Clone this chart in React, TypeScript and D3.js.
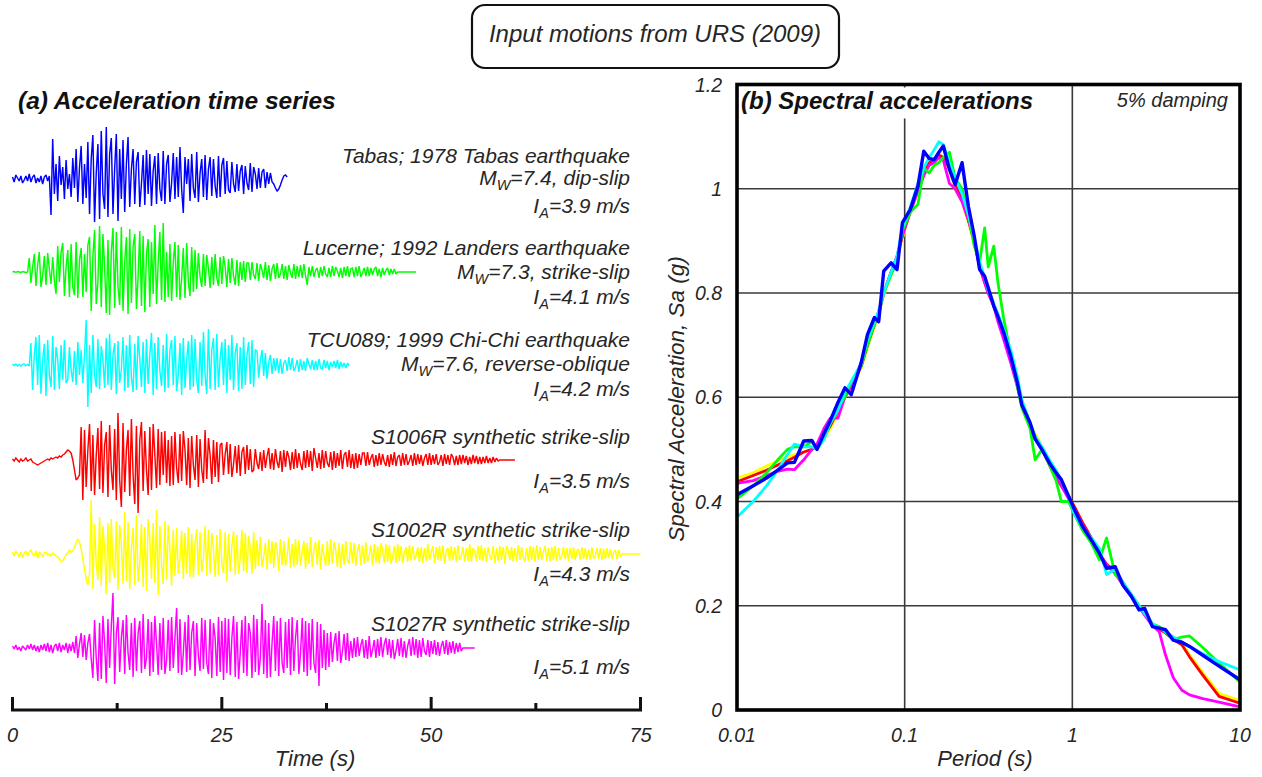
import React from "react";
import * as d3 from "d3";

const FONT = "'Liberation Sans', Arial, Helvetica, sans-serif";

// ---------- (a) acceleration time series, sampled every 0.2 s, units %g ----------
const TIME_STEP = 0.2;

const tabasAcc = [4,-6,8,2,-4,6,-8,-2,6,-4,10,-6,4,8,-8,2,-6,6,-10,4,8,-4,6,
-72,80,-30,
30,-44,46,-12,24,-40,38,-20,10,-36,42,
-18,60,-46,22,66,-50,30,-38,
74,-70,40,88,-86,12,70,-80,96,-30,-60,104,-76,50,82,-70,20,90,-84,60,-40,78,-66,30,84,
-56,20,60,-50,34,54,-56,-10,48,-52,58,-30,50,-54,16,46,-50,52,-20,-44,56,-50,30,48,-46,-8,52,-40,44,-36,
64,-20,-68,44,-10,40,
-44,50,-18,-38,54,-46,12,40,-36,48,-42,20,44,-34,40,-14,-38,46,-36,28,42,-30,36,-22,
-28,34,-10,-26,30,-24,16,28,-30,26,-8,-22,32,-26,24,10,-20,22,-18,14,
20,-18,14,-10,12,-6,
-10,-18,-24,-20,-12,-2,6,8,4];

const lucerneAcc = [0,1,-1,1,0,-1,1,0,-1,0,
28,-22,10,36,-28,14,40,-30,-8,32,-26,38,6,-24,30,-18,
-44,52,-20,40,58,-48,10,44,-50,56,-30,-46,60,-52,24,48,-50,36,-40,54,
70,-78,30,84,-64,-20,92,-70,76,10,-82,64,-86,40,88,-72,80,-30,-66,90,
-78,20,70,-84,86,-62,50,76,-74,-10,82,-68,72,-80,36,66,-70,60,-44,94,-64,20,80,-56,98,-60,40,-50,
56,-58,20,60,-50,54,-56,-14,48,-52,58,-20,-48,50,-40,44,
-34,38,-10,-30,36,-28,34,8,-32,30,-26,36,-12,-28,30,-24,32,10,-30,26,-22,28,-8,-26,24,-28,20,-16,22,-20,18,
18,-16,20,-6,-14,18,-18,16,4,-12,20,-16,14,-18,6,16,-14,18,-12,-4,16,-14,12,-16,14,-2,-12,16,-14,12,-10,14,-12,16,-8,
-26,
10,-8,12,-10,4,8,-12,10,-8,12,-4,-10,8,-10,12,-8,10,2,-10,8,-12,10,-8,12,-10,6,8,-10,10,-8,
12,-10,-2,8,-8,10,-8,8,-6,6,10,-8,6,-10,8,-6,4,8,-6,6,-4,6,-4,
0,0,0,0,0,0,0,0,0,0,0,0];

const tcuAcc = [2,-1,2,-2,1,-2,1,2,-1,1,-2,
44,-50,20,56,-40,60,-58,10,42,-62,50,-20,-44,58,-50,36,12,-48,40,-30,50,-36,
-30,36,-10,-34,28,-40,46,-20,30,-36,20,
90,-84,40,
-56,60,-20,-44,52,-48,38,10,-46,54,-40,62,-50,20,44,-58,48,-36,-10,56,
-52,40,-46,60,-24,-54,42,-50,58,12,-44,46,-56,52,-38,20,64,-60,44,-48,
56,-12,-42,40,-54,62,-46,30,50,-40,58,-52,-20,44,-60,54,-46,10,48,-50,
60,-44,52,-30,-56,46,-42,66,-20,-58,72,-48,30,54,-50,62,-44,14,46,-40,
52,-56,40,-30,60,-50,24,44,-52,36,-48,56,-40,20,46,-38,50,-44,30,
28,-26,10,30,-22,24,-28,6,20,-18,14,-12,
14,-16,12,-18,4,10,-12,16,-10,14,-12,-4,10,-14,12,-10,8,-12,14,2,
-8,10,-10,8,-10,12,-6,-8,10,-6,8,-10,6,-4,8,-6,10,-8,6,-4,4,-6,4,-2];

const s1006Acc = [2,-2,4,0,-4,2,-2,0,4,-2,0,2,-4,-6,-8,-10,-8,-6,-4,-2,0,2,0,4,2,4,6,4,8,6,10,12,
16,20,18,14,
0,-20,-40,-36,-30,
66,-80,
60,-54,20,72,-62,50,-70,10,64,-58,78,-66,30,56,-74,70,-20,-60,62,-80,
94,-40,-94,74,-64,20,60,-72,82,-30,-88,68,-106,40,76,-62,58,-20,-70,66,
-60,72,10,-56,62,-50,56,-30,58,-46,40,-52,48,
-50,56,-16,-46,52,-42,58,20,-50,44,-56,48,-10,-40,50,-54,42,-20,-46,60,-38,44,10,-48,40,-34,36,-44,30,
34,-30,12,36,-28,32,-34,-8,28,-26,30,-32,16,26,-28,30,-20,22,-24,
-20,22,-6,-18,16,-22,20,-16,8,24,-18,14,-20,22,-4,-16,18,-24,20,-14,
18,6,-20,16,-18,22,-16,14,-8,-20,18,-16,20,-14,18,-22,24,4,-16,14,
-18,20,-16,18,-6,-14,16,-20,18,-16,14,-12,20,-18,10,16,-14,20,-16,12,
-18,14,-16,12,-10,14,
14,-12,16,-10,4,12,-14,10,-12,14,-10,12,-4,-12,10,-14,12,-10,16,-12,
6,10,-12,14,-10,12,-10,-2,10,-12,14,-10,12,-8,10,-12,4,12,-10,14,
-10,10,-8,12,-10,-4,10,-12,12,-8,10,-10,12,6,-10,8,-10,10,-8,10,
-6,8,-10,6,-8,10,-6,8,-8,6,-8,6,-6,8,-6,4,-6,6,-4,4,-2,
0,0,0,0,0,0,0,0,0,0];

const s1002Acc = [4,-4,6,0,-6,4,-8,2,6,-4,4,8,0,-4,6,-8,4,0,-6,2,4,-2,0,-4,2,0,-4,-6,-10,
-16,-14,-8,-2,
2,8,4,6,14,22,30,24,
10,-10,-30,-50,
-62,-40,
108,
-70,60,-20,-52,74,-64,56,10,-80,62,-58,70,-30,-48,66,-72,58,20,-60,84,
-54,64,-70,10,52,-62,78,-56,-20,60,-66,54,-74,70,30,-50,62,-58,88,-82,
56,-20,-60,66,-52,58,10,-64,48,-44,52,-40,-10,46,-50,42,-38,54,-46,
40,-48,20,50,-42,44,-36,-10,56,-44,48,-40,42,10,-46,38,-42,50,-20,-38,
44,-56,40,-36,16,46,-42,38,-40,-8,48,-34,42,-38,36,12,-40,44,-30,28,
-24,34,-26,-6,22,-32,30,-20,26,-28,24,10,-34,30,-22,26,-24,-4,32,-28,20,-26,
30,-22,28,-24,6,26,-30,22,-20,34,-26,10,24,-22,28,-30,20,-4,-24,26,
-22,30,-20,24,8,-26,22,-28,20,-22,26,-12,-20,24,-18,22,-24,6,20,-22,
18,-20,24,-16,-4,18,-22,20,-18,16,-20,22,8,-18,20,-16,18,-20,-6,16,
-18,20,-14,16,-18,4,14,-16,18,-14,16,-12,-4,14,-16,
14,-18,12,-14,20,-12,4,16,-18,14,-12,16,-14,18,-20,6,12,-14,16,-12,
14,-16,18,-12,-4,14,-16,12,-14,20,-16,12,6,-14,16,-12,18,-14,12,-16,
14,-4,-12,16,-18,12,-14,16,-12,14,-20,16,8,-12,14,-16,12,-14,18,-12,
14,-6,-16,12,-14,16,-12,14,-16,18,-12,14,-12,4,16,-14,12,-16,14,-12,
16,-14,12,-12,-4,14,-10,12,-14,12,-10,14,-12,6,10,-12,14,-10,12,-12,
10,-12,14,-10,-4,12,-10,12,-12,10,-10,12,-8,10,-10,4,8,-10,8,-6,
0,0,0,0,0,0,0,0,0,0,0,0];

const s1027Acc = [4,-2,6,-4,2,-6,4,0,-4,6,-2,8,-4,6,-6,4,-8,6,-4,8,
-6,10,-8,6,-10,4,8,-6,10,-8,6,-4,10,-10,8,-6,12,-10,
24,-20,8,30,-18,26,-24,10,28,-22,
-60,56,-20,-66,50,-62,64,10,-70,58,-40,44,
110,-72,30,
62,-48,20,56,-52,66,-10,-44,50,-58,60,-46,30,54,-50,68,-42,-20,58,-56,
52,-48,64,10,-54,50,-44,60,-52,-24,56,-46,62,-40,20,80,-50,58,-54,-10,
52,-48,66,-44,30,54,-56,50,-16,-46,60,-42,56,-30,-52,58,-60,50,20,-56,
62,-48,54,-64,
60,-50,58,-54,20,64,-58,52,-62,-10,56,-50,64,-56,50,30,-60,66,-48,58,
-54,-20,88,-52,56,-60,50,-58,10,64,-46,54,-56,60,-30,-50,52,-40,58,-54,
62,-46,20,56,-52,-10,60,-48,54,-56,50,-44,58,-30,-50,52,-76,48,-40,36,
-44,30,-38,
32,-28,10,30,-26,34,-30,-8,28,-24,30,-26,14,-20,
20,-18,22,-16,6,18,-20,16,-22,24,-18,-4,16,-20,18,-16,22,-18,8,20,
-14,18,-20,16,-22,-6,18,-16,20,-18,14,-20,4,18,-16,22,-14,18,-20,16,
-18,20,-6,-14,16,-18,14,-12,16,-14,12,-16,4,14,-12,16,-14,12,-10,14,
-12,10,-8,10,-6,
0,0,0,0,0,0,0,0];

const recordLine1 = [
  "Tabas; 1978 Tabas earthquake",
  "Lucerne; 1992 Landers earthquake",
  "TCU089; 1999 Chi-Chi earthquake",
  "S1006R synthetic strike-slip",
  "S1002R synthetic strike-slip",
  "S1027R synthetic strike-slip",
];
const recordMw = ["7.4", "7.3", "7.6", null, null, null];
const recordMechanism = ["dip-slip", "strike-slip", "reverse-oblique", null, null, null];
const recordIa = ["3.9", "4.1", "4.2", "3.5", "4.3", "5.1"];
const recordColors = ["#0000ff", "#00ff00", "#00ffff", "#ff0000", "#ffff00", "#ff00ff"];

const timeTicks = [0, 25, 50, 75];
const timeMinorTicks = [12.5, 37.5, 62.5];

// ---------- (b) spectral accelerations ----------
const periods = [0.01,0.0125,0.015,0.0175,0.02,0.022,0.025,0.028,0.03,0.033,
0.036,0.04,0.044,0.048,0.055,0.06,0.066,0.07,0.075,0.083,
0.09,0.097,0.108,0.12,0.13,0.14,0.15,0.16,0.17,0.185,
0.2,0.22,0.24,0.26,0.28,0.3,0.315,0.34,0.36,0.39,
0.43,0.47,0.5,0.56,0.6,0.66,0.73,0.8,0.86,0.95,
1.03,1.15,1.3,1.45,1.6,1.8,2.0,2.25,2.5,2.7,
3.0,3.3,3.6,4.0,4.5,5.0,6.0,7.5,10];

const saTabas = [0.413,0.43,0.445,0.46,0.474,0.475,0.516,0.517,0.50,0.53,
0.555,0.59,0.618,0.605,0.666,0.72,0.753,0.745,0.842,0.858,
0.845,0.935,0.96,1.005,1.072,1.058,1.056,1.07,1.082,1.037,
1.008,1.05,0.966,0.909,0.845,0.832,0.81,0.775,0.755,0.724,
0.678,0.628,0.585,0.551,0.52,0.499,0.474,0.455,0.442,0.41,
0.384,0.352,0.326,0.301,0.272,0.275,0.24,0.218,0.192,0.195,
0.16,0.157,0.154,0.134,0.13,0.122,0.105,0.084,0.058];

const saLucerne = [0.405,0.43,0.455,0.48,0.50,0.505,0.505,0.515,0.50,0.52,
0.55,0.58,0.60,0.63,0.66,0.70,0.74,0.76,0.80,0.835,
0.86,0.92,0.955,0.97,1.04,1.03,1.045,1.05,1.06,1.07,
1.02,1.0,0.95,0.89,0.86,0.925,0.85,0.89,0.82,0.75,
0.68,0.62,0.58,0.54,0.48,0.50,0.47,0.44,0.40,0.40,
0.375,0.345,0.32,0.288,0.33,0.26,0.245,0.22,0.20,0.19,
0.165,0.16,0.15,0.135,0.14,0.142,0.12,0.09,0.054];

const saTcu = [0.37,0.40,0.43,0.46,0.49,0.51,0.505,0.505,0.50,0.52,
0.55,0.575,0.61,0.63,0.665,0.71,0.745,0.765,0.80,0.84,
0.87,0.925,0.965,1.01,1.04,1.06,1.075,1.09,1.085,1.05,
1.02,0.99,0.95,0.905,0.86,0.83,0.805,0.78,0.76,0.73,
0.69,0.64,0.595,0.55,0.525,0.505,0.48,0.46,0.44,0.41,
0.375,0.35,0.33,0.31,0.26,0.27,0.245,0.222,0.20,0.185,
0.165,0.158,0.15,0.14,0.13,0.122,0.108,0.093,0.077];

const saS1006 = [0.438,0.45,0.46,0.47,0.478,0.485,0.495,0.50,0.505,0.525,
0.545,0.575,0.61,0.625,0.66,0.70,0.74,0.765,0.80,0.84,
0.87,0.91,0.96,1.0,1.03,1.05,1.055,1.065,1.06,1.04,
1.01,0.98,0.94,0.90,0.85,0.82,0.80,0.775,0.75,0.72,
0.67,0.625,0.59,0.545,0.525,0.50,0.47,0.445,0.43,0.41,
0.39,0.36,0.33,0.30,0.28,0.265,0.245,0.22,0.20,0.185,
0.165,0.155,0.148,0.135,0.125,0.102,0.067,0.026,0.013];

const saS1002 = [0.445,0.455,0.468,0.478,0.485,0.49,0.495,0.50,0.505,0.52,
0.54,0.57,0.60,0.62,0.655,0.695,0.735,0.76,0.795,0.835,
0.865,0.905,0.955,0.995,1.025,1.045,1.05,1.06,1.055,1.035,
1.0,0.975,0.935,0.895,0.855,0.825,0.805,0.78,0.755,0.725,
0.675,0.63,0.595,0.55,0.53,0.505,0.475,0.45,0.432,0.41,
0.388,0.358,0.328,0.30,0.278,0.262,0.243,0.22,0.20,0.185,
0.165,0.157,0.15,0.138,0.128,0.106,0.072,0.032,0.018];

const saS1027 = [0.435,0.44,0.45,0.458,0.462,0.461,0.48,0.50,0.51,0.54,
0.56,0.56,0.60,0.62,0.66,0.70,0.74,0.76,0.80,0.84,
0.87,0.91,0.955,0.995,1.025,1.045,1.05,1.06,1.055,1.01,
1.0,0.975,0.94,0.90,0.85,0.82,0.80,0.775,0.745,0.71,
0.665,0.62,0.585,0.545,0.52,0.50,0.475,0.45,0.43,0.405,
0.385,0.355,0.328,0.30,0.278,0.262,0.24,0.218,0.198,0.182,
0.162,0.15,0.105,0.062,0.038,0.029,0.022,0.015,0.006];

const saTicks = [0, 0.2, 0.4, 0.6, 0.8, 1, 1.2];
const saTickLabels = ["0", "0.2", "0.4", "0.6", "0.8", "1", "1.2"];
const periodTicks = [0.01, 0.1, 1, 10];
const periodTickLabels = ["0.01", "0.1", "1", "10"];

export default function App() {
  // ----- layout -----
  const rowBase = [179, 272, 365, 460, 554, 648];
  const line1Y = [163, 255, 347, 444, 537, 631];
  const line2Y = [185, 279, 371, 0, 0, 0];
  const iaY = [213, 304, 396, 488, 581, 674];
  const labelRight = 630;
  const axisY = 710;

  const tScale = d3.scaleLinear().domain([0, 75]).range([12.5, 640.5]);
  const aScale = d3.scaleLinear().domain([-100, 100]).range([50, -50]);

  const accSeries = [tabasAcc, lucerneAcc, tcuAcc, s1006Acc, s1002Acc, s1027Acc];

  const plot = { left: 737, right: 1240, top: 84.5, bottom: 710 };
  const xLog = d3.scaleLog().domain([0.01, 10]).range([plot.left, plot.right]);
  const ySa = d3.scaleLinear().domain([0, 1.2]).range([plot.bottom, plot.top]);

  const saSeries = [
    { v: saS1002, c: "#ffff00", w: 2.8 },
    { v: saS1006, c: "#ff0000", w: 2.8 },
    { v: saS1027, c: "#ff00ff", w: 2.8 },
    { v: saLucerne, c: "#00ff00", w: 2.8 },
    { v: saTcu, c: "#00ffff", w: 2.8 },
    { v: saTabas, c: "#0000ff", w: 3.4 },
  ];

  const saLine = (vals: number[]) =>
    d3.line<number>()
      .x((_, i) => xLog(periods[i]))
      .y((d) => ySa(d))(vals) || "";

  const textColor = "#262626";

  return (
    <svg width={1262} height={777} style={{ position: "absolute", left: 0, top: 0, background: "#fff" }}
      fontFamily={FONT}>
      <rect x={0} y={0} width={1262} height={777} fill="#fff" />
      {/* title box */}
      <rect x={472} y={5} width={367} height={63} rx={13} ry={13} fill="#fff" stroke="#111" strokeWidth={2.2} />
      <text x={655} y={42} textAnchor="middle" fontSize={24} fontStyle="italic" fill={textColor}>
        Input motions from URS (2009)
      </text>

      {/* ---------- panel (a) ---------- */}
      <text x={18} y={109} fontSize={24.5} fontWeight="bold" fontStyle="italic" fill="#111">
        (a) Acceleration time series
      </text>

      {accSeries.map((acc, r) => {
        const path = d3.line<number>()
          .x((_, i) => tScale(i * TIME_STEP))
          .y((d) => rowBase[r] + aScale(d))(acc) || "";
        return <path key={"acc" + r} d={path} fill="none" stroke={recordColors[r]} strokeWidth={1.45} strokeLinejoin="miter" strokeMiterlimit={2} />;
      })}

      {recordLine1.map((t, r) => (
        <g key={"lab" + r} fontStyle="italic" fontSize={21} fill={textColor} textAnchor="end">
          <text x={labelRight} y={line1Y[r]}>{t}</text>
          {recordMw[r] && (
            <text x={labelRight} y={line2Y[r]}>
              M<tspan fontSize={14.5} dy={5}>W</tspan><tspan dy={-5}>{"=" + recordMw[r] + ", " + recordMechanism[r]}</tspan>
            </text>
          )}
          <text x={labelRight} y={iaY[r]}>
            I<tspan fontSize={14.5} dy={5}>A</tspan><tspan dy={-5}>{"=" + recordIa[r] + " m/s"}</tspan>
          </text>
        </g>
      ))}

      {/* time axis */}
      <line x1={tScale(0) - 1.5} x2={tScale(75) + 1.5} y1={axisY} y2={axisY} stroke="#111" strokeWidth={3.2} />
      {timeTicks.map((t) => (
        <line key={"tt" + t} x1={tScale(t)} x2={tScale(t)} y1={axisY} y2={axisY - 13} stroke="#111" strokeWidth={3} />
      ))}
      {timeMinorTicks.map((t) => (
        <line key={"tm" + t} x1={tScale(t)} x2={tScale(t)} y1={axisY} y2={axisY - 7} stroke="#111" strokeWidth={3} />
      ))}
      {timeTicks.map((t) => (
        <text key={"tl" + t} x={tScale(t)} y={742} textAnchor="middle" fontSize={20} fontStyle="italic" fill={textColor}>
          {t}
        </text>
      ))}
      <text x={315} y={766} textAnchor="middle" fontSize={22} fontStyle="italic" fill={textColor}>Time (s)</text>

      {/* ---------- panel (b) ---------- */}
      {saTicks.slice(1, -1).map((v) => (
        <line key={"gy" + v} x1={plot.left} x2={plot.right} y1={ySa(v)} y2={ySa(v)} stroke="#3a3a3a" strokeWidth={1.6} />
      ))}
      {periodTicks.slice(1, -1).map((p) => (
        <line key={"gx" + p} x1={xLog(p)} x2={xLog(p)} y1={plot.top} y2={plot.bottom} stroke="#3a3a3a" strokeWidth={1.6} />
      ))}

      {saSeries.map((s, i) => (
        <path key={"sa" + i} d={saLine(s.v)} fill="none" stroke={s.c} strokeWidth={s.w} strokeLinejoin="round" />
      ))}

      {/* title background and text */}
      <rect x={plot.left + 2} y={plot.top + 3} width={305} height={31} fill="#fff" />
      <text x={741} y={109} fontSize={24} fontWeight="bold" fontStyle="italic" fill="#111">
        (b) Spectral accelerations
      </text>
      <text x={1228} y={107} textAnchor="end" fontSize={20} fontStyle="italic" fill={textColor}>5% damping</text>

      {/* frame */}
      <rect x={plot.left} y={plot.top} width={plot.right - plot.left} height={plot.bottom - plot.top}
        fill="none" stroke="#000" strokeWidth={3.6} />

      {saTicks.map((v, i) => (
        <text key={"yl" + v} x={722} y={ySa(v) + 7} textAnchor="end" fontSize={19.5} fontStyle="italic" fill={textColor}>
          {saTickLabels[i]}
        </text>
      ))}
      {periodTicks.map((p, i) => (
        <text key={"xl" + p} x={xLog(p)} y={742} textAnchor="middle" fontSize={19.5} fontStyle="italic" fill={textColor}>
          {periodTickLabels[i]}
        </text>
      ))}
      <text x={985} y={766} textAnchor="middle" fontSize={22} fontStyle="italic" fill={textColor}>Period (s)</text>
      <text transform="translate(684,399) rotate(-90)" textAnchor="middle" fontSize={22.5} fontStyle="italic" fill={textColor}>
        Spectral Acceleration, Sa (g)
      </text>
    </svg>
  );
}
